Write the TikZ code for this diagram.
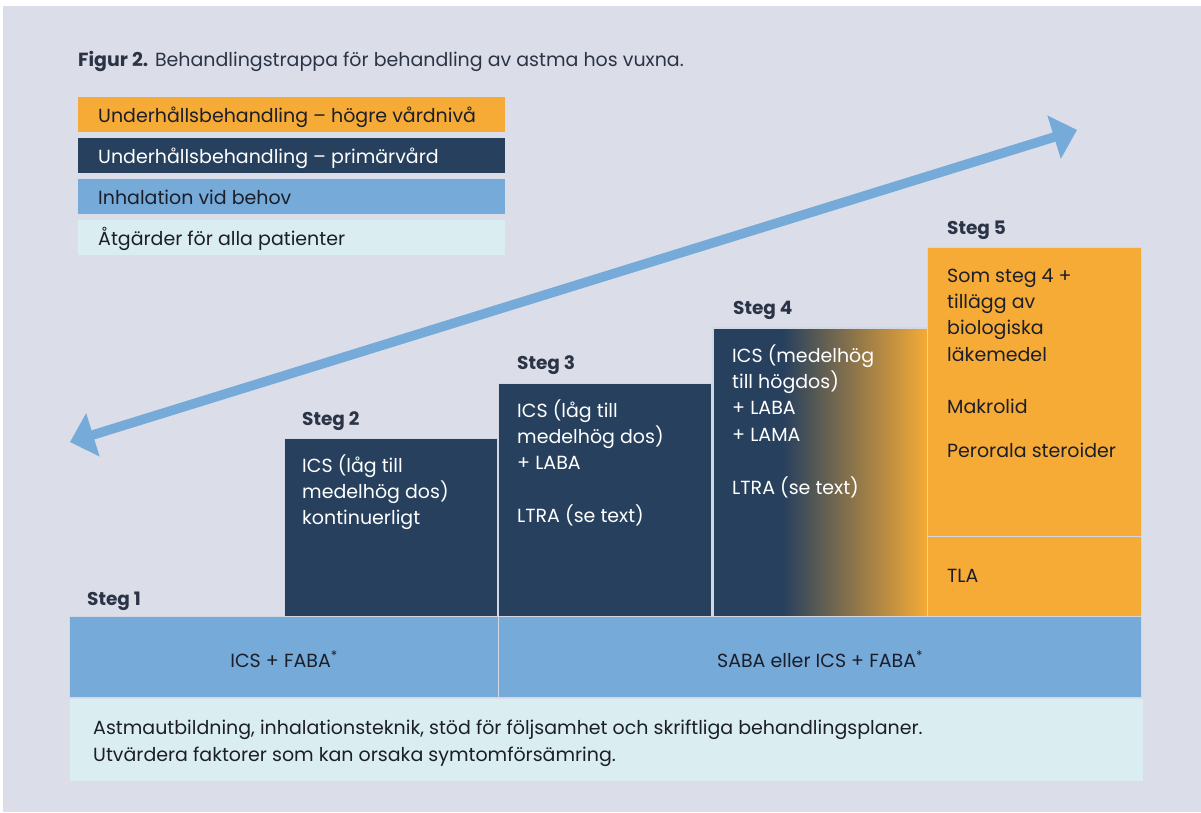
\documentclass[tikz,border=0pt]{standalone}
\usepackage{fontspec}
\setmainfont{Poppins}
\usetikzlibrary{arrows.meta}
\definecolor{bgc}{HTML}{DBDEE8}
\definecolor{orangec}{HTML}{F5AB36}
\definecolor{navyc}{HTML}{26405E}
\definecolor{bluec}{HTML}{75AAD9}
\definecolor{lightc}{HTML}{DAEDF0}
\definecolor{sepc}{HTML}{D3D7E2}
\definecolor{inkc}{HTML}{1C1E2A}
\definecolor{headc}{HTML}{2B3346}
\newcommand\mylines[1]{\parbox[t]{220pt}{\raggedright #1}}
\begin{document}
\begin{tikzpicture}[x=1pt,y=-1pt,
  box/.style={rectangle, anchor=north west, inner sep=0pt, draw=sepc, line width=1.2pt},
  legbox/.style={rectangle, anchor=north west, inner sep=0pt, minimum width=427pt, minimum height=35pt},
  txt/.style={anchor=base west, inner sep=0pt, font=\fontsize{19}{26.4}\selectfont, text=inkc},
  wtxt/.style={txt, text=white},
  steglabel/.style={anchor=base west, inner sep=0pt, font=\fontsize{18.5}{20}\selectfont\bfseries, text=headc},
  bandtxt/.style={anchor=base, inner sep=0pt, font=\fontsize{19}{22}\selectfont, text=inkc},
  arrowline/.style={draw=bluec, line width=9.5pt, {Triangle[length=24pt,width=44pt]}-{Triangle[length=24pt,width=44pt]}}
]
\useasboundingbox (0,0) rectangle (1201,812);
\fill[white] (0,0) rectangle (1201,812);
\fill[bgc] (3,6) rectangle (1201,812);

% title
\node[anchor=base west, inner sep=0pt, font=\fontsize{19}{22}\selectfont, text=headc] (title) at (78,66) {\textbf{Figur 2.} Behandlingstrappa för behandling av astma hos vuxna.};

% legend
\node[legbox, fill=orangec] (l1) at (78,97) {};
\node[legbox, fill=navyc] (l2) at (78,138) {};
\node[legbox, fill=bluec] (l3) at (78,179) {};
\node[legbox, fill=lightc] (l4) at (78,220) {};
\node[txt] (l1t) at (98,122) {Underhållsbehandling – högre vårdnivå};
\node[wtxt] (l2t) at (98,163) {Underhållsbehandling – primärvård};
\node[txt] (l3t) at (98,204) {Inhalation vid behov};
\node[txt] (l4t) at (98,245) {Åtgärder för alla patienter};

% arrow
\coordinate (aL) at (70,442);
\coordinate (aR) at (1077,130);
\draw[arrowline] (aL) -- (aR);

% step boxes
\node[box, fill=navyc, minimum width=213pt, minimum height=178pt] (s2) at (284,438) {};
\node[box, fill=navyc, minimum width=213pt, minimum height=233pt] (s3) at (498,383) {};
\node[box, fill=navyc, minimum width=214pt, minimum height=288pt] (s4) at (713,328) {};
\fill[left color=navyc, right color=orangec] (782,328) rectangle (927,616);
\draw[sepc, line width=1.2pt] (s4.north west) rectangle (s4.south east);
\node[box, fill=orangec, minimum width=214pt, minimum height=289pt] (s5a) at (927,247) {};
\node[box, fill=orangec, minimum width=214pt, minimum height=80pt] (s5b) at (927,536) {};

% bands
\node[box, fill=bluec, minimum width=429pt, minimum height=81pt] (b1) at (69,616) {};
\node[box, fill=bluec, minimum width=643pt, minimum height=81pt] (b2) at (498,616) {};
\node[box, fill=lightc, draw=none, minimum width=1073pt, minimum height=82pt] (b3) at (69,698) {};

% step labels
\node[steglabel] (g1) at (87,605) {Steg 1};
\node[steglabel] (g2) at (302,425) {Steg 2};
\node[steglabel] (g3) at (517,369) {Steg 3};
\node[steglabel] (g4) at (733,314) {Steg 4};
\node[steglabel] (g5) at (947,234) {Steg 5};

% step texts
\node[wtxt] (t2) at (302,472) {\mylines{ICS (låg till\\medelhög dos)\\kontinuerligt}};
\node[wtxt] (t3) at (517,417) {\mylines{ICS (låg till\\medelhög dos)\\+ LABA\\[26.4pt]LTRA (se text)}};
\node[wtxt] (t4) at (732,362) {\mylines{ICS (medelhög\\till högdos)\\+ LABA\\+ LAMA\\[26.4pt]LTRA (se text)}};
\node[txt] (t5a) at (947,282) {\mylines{Som steg 4 +\\tillägg av\\biologiska\\läkemedel}};
\node[txt] (t5b) at (947,413) {Makrolid};
\node[txt] (t5c) at (947,457) {Perorala steroider};
\node[txt] (t5d) at (947,582) {TLA};

% band texts
\node[bandtxt] (b1t) at (b1.center |- 0,667) {ICS + FABA\textsuperscript{*}};
\node[bandtxt] (b2t) at (b2.center |- 0,667) {SABA eller ICS + FABA\textsuperscript{*}};
\node[anchor=base west, inner sep=0pt, font=\fontsize{19}{27}\selectfont, text=inkc] (b3t) at (93,734) {\parbox[t]{1040pt}{Astmautbildning, inhalationsteknik, stöd för följsamhet och skriftliga behandlingsplaner.\\Utvärdera faktorer som kan orsaka symtomförsämring.}};
\end{tikzpicture}
\end{document}
